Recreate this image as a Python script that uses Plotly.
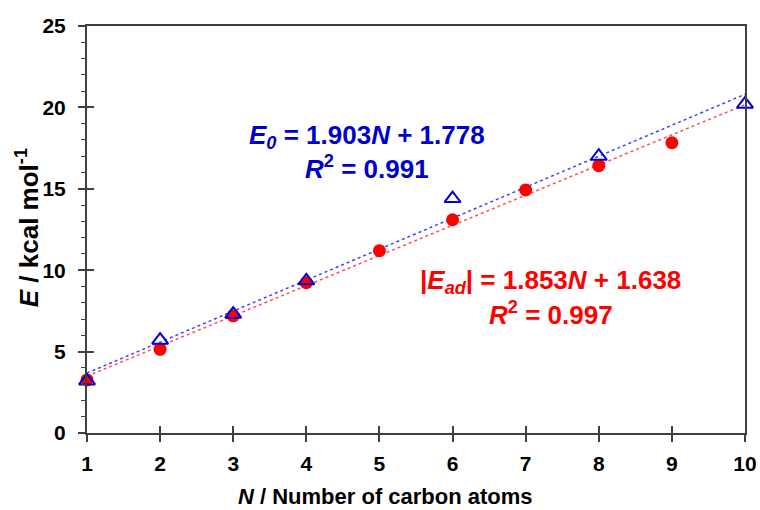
import plotly.graph_objects as go

# Adsorption energy |E_ad| (red circles) and E_0 (blue triangles) vs. carbon number
n_ad = [1, 2, 3, 4, 5, 6, 7, 8, 9]
e_ad = [3.26, 5.14, 7.2, 9.23, 11.2, 13.1, 14.93, 16.42, 17.83]

n_0 = [1, 2, 3, 4, 6, 8, 10]
e_0 = [3.2, 5.7, 7.3, 9.35, 14.4, 17.0, 20.2]

# Linear fits as reported
fit_ad = (1.853, 1.638)
fit_0 = (1.903, 1.778)
fit_x = [1, 10]

x_ticks = list(range(1, 11))
y_ticks = [0, 5, 10, 15, 20, 25]

FONT = "Liberation Sans, Arial, sans-serif"
AXIS_COLOR = "#404040"
RED = "#FF0000"
BLUE = "#0000CC"

fig = go.Figure()

# dotted trend lines
fig.add_trace(go.Scatter(
    x=fit_x, y=[fit_ad[0] * v + fit_ad[1] for v in fit_x],
    mode="lines", line=dict(color="#FF5050", width=1.5, dash="dot"),
    hoverinfo="skip", showlegend=False))
fig.add_trace(go.Scatter(
    x=fit_x, y=[fit_0[0] * v + fit_0[1] for v in fit_x],
    mode="lines", line=dict(color="#4040FF", width=1.5, dash="dot"),
    hoverinfo="skip", showlegend=False))

fig.add_trace(go.Scatter(
    x=n_ad, y=e_ad, mode="markers", cliponaxis=False,
    marker=dict(symbol="circle", size=13, color=RED, line=dict(width=0)),
    showlegend=False))
fig.add_trace(go.Scatter(
    x=n_0, y=e_0, mode="markers", cliponaxis=False,
    marker=dict(symbol="triangle-up-open", size=14, color=BLUE,
                line=dict(width=2, color=BLUE)),
    showlegend=False))

tick_font = dict(family=FONT, size=21, color="#000000", weight="bold")
title_font = dict(family=FONT, size=22, color="#000000", weight="bold")

fig.update_layout(
    width=760, height=510,
    margin=dict(l=87, r=15, t=26, b=77),
    paper_bgcolor="white", plot_bgcolor="white",
    font=dict(family=FONT),
    xaxis=dict(
        range=[1, 10], tickvals=x_ticks, ticks="outside", ticklen=7,
        tickwidth=1.5, tickcolor=AXIS_COLOR, showgrid=False, zeroline=False,
        showline=True, linecolor=AXIS_COLOR, linewidth=2, mirror=True,
        tickfont=tick_font, ticklabelstandoff=4, automargin=False,
    ),
    yaxis=dict(
        range=[0, 25], tickvals=y_ticks, ticks="outside", ticklen=7,
        tickwidth=1.5, tickcolor=AXIS_COLOR, showgrid=False, zeroline=False,
        showline=True, linecolor=AXIS_COLOR, linewidth=2, mirror=True,
        tickfont=tick_font, ticklabelstandoff=8, automargin=False,
        minor=dict(dtick=1, ticks="outside", ticklen=4, tickwidth=1.2,
                   tickcolor=AXIS_COLOR, showgrid=False),
    ),
    # overlay axes to draw the inner half of the major ticks
    xaxis2=dict(overlaying="x", anchor="y", side="bottom", range=[1, 10],
                tickvals=x_ticks, ticks="inside", ticklen=7, tickwidth=1.5,
                tickcolor=AXIS_COLOR, showticklabels=False, showgrid=False,
                zeroline=False, showline=False, automargin=False),
    yaxis2=dict(overlaying="y", anchor="x", side="left", range=[0, 25],
                tickvals=y_ticks, ticks="inside", ticklen=7, tickwidth=1.5,
                tickcolor=AXIS_COLOR, showticklabels=False, showgrid=False,
                zeroline=False, showline=False, automargin=False),
)

# dummy trace so the overlay axes are rendered
fig.add_trace(go.Scatter(x=[None], y=[None], xaxis="x2", yaxis="y2",
                         showlegend=False, hoverinfo="skip"))

# axis titles
fig.add_annotation(
    text="<i>E</i> / kcal mol<sup>-1</sup>", textangle=-90,
    xref="paper", yref="paper", x=-0.09, y=0.505, xanchor="center", yanchor="middle",
    showarrow=False, font=dict(family=FONT, size=26, color="#000000", weight="bold"))
fig.add_annotation(
    text="<i>N</i> / Number of carbon atoms",
    xref="paper", yref="paper", x=0.453, y=-0.157, xanchor="center", yanchor="middle",
    showarrow=False, font=title_font)

ann_font_b = dict(family=FONT, size=26, color=BLUE, weight="bold")
ann_font_r = dict(family=FONT, size=26, color=RED, weight="bold")

fig.add_annotation(
    text=f"<i>E</i><sub><i>0</i></sub> = {fit_0[0]:.3f}<i>N</i> + {fit_0[1]:.3f}",
    x=4.83, y=18.2, xref="x", yref="y", showarrow=False, font=ann_font_b)
fig.add_annotation(
    text="<i>R</i><sup>2</sup> = 0.991",
    x=4.83, y=16.3, xref="x", yref="y", showarrow=False, font=ann_font_b)
fig.add_annotation(
    text=f"|<i>E</i><sub><i>ad</i></sub>| = {fit_ad[0]:.3f}<i>N</i> + {fit_ad[1]:.3f}",
    x=7.34, y=9.28, xref="x", yref="y", showarrow=False, font=ann_font_r)
fig.add_annotation(
    text="<i>R</i><sup>2</sup> = 0.997",
    x=7.34, y=7.37, xref="x", yref="y", showarrow=False, font=ann_font_r)

fig.write_html("out.html")
